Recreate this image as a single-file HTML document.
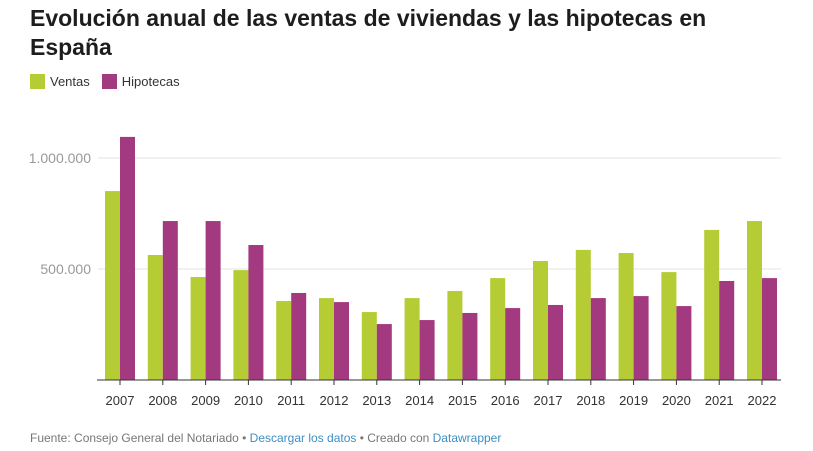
<!DOCTYPE html>
<html><head><meta charset="utf-8"><style>
body{margin:0;width:813px;height:451px;background:#fff;font-family:"Liberation Sans",sans-serif;overflow:hidden}
h1{position:absolute;left:30px;top:4px;margin:0;font-size:23px;line-height:29px;font-weight:bold;color:#1d1d1d;width:760px}
.legend{position:absolute;left:30px;top:74px;font-size:13px;color:#333;display:flex;gap:12px}
.legend span{display:flex;align-items:center}
.sw{display:inline-block;width:15px;height:15px;margin-right:5px}
.foot{position:absolute;left:30px;top:431px;font-size:12px;color:#777}
.foot a{color:#3c8fc5;text-decoration:none}
</style></head><body>
<h1>Evolución anual de las ventas de viviendas y las hipotecas en España</h1>
<div class="legend">
<span><i class="sw" style="background:#b5cc34"></i>Ventas</span>
<span><i class="sw" style="background:#a3397f"></i>Hipotecas</span>
</div>
<svg id="chart" width="813" height="451" style="position:absolute;left:0;top:0"></svg>
<div class="foot">Fuente: Consejo General del Notariado • <a>Descargar los datos</a> • Creado con <a>Datawrapper</a></div>
<script>
const years=["2007","2008","2009","2010","2011","2012","2013","2014","2015","2016","2017","2018","2019","2020","2021","2022"];
const ventas=[851000,563000,464000,495000,356000,369000,306000,369000,401000,459000,536000,586000,572000,486000,676000,716000];
const hipotecas=[1095000,716000,716000,608000,392000,351000,252000,270000,302000,324000,338000,369000,378000,333000,446000,459000];
const ticks=[500000,1000000];
const tickLabels=["500.000","1.000.000"];
const svg=document.getElementById('chart');
const NS="http://www.w3.org/2000/svg";
const y0=380,pxPer=111/500000;
const y=v=>y0-v*pxPer;
const x=i=>105+i*42.8;
function mk(t,a){const e=document.createElementNS(NS,t);for(const k in a)e.setAttribute(k,a[k]);svg.appendChild(e);return e;}
ticks.forEach((t,i)=>{
 const l=mk('line',{x1:98,x2:781,y1:y(t),y2:y(t),stroke:'#e3e3e3'});
 
 
 const tx=mk('text',{x:91,y:y(t)+5,fill:'#999','font-size':14,'text-anchor':'end','font-family':'Liberation Sans'});
 tx.textContent=tickLabels[i];
 
 
});
years.forEach((yr,i)=>{
 const g=mk('rect',{x:x(i),y:y(ventas[i]),width:15,height:ventas[i]*pxPer,fill:'#b5cc34'});
 
 
 const p=mk('rect',{x:x(i)+15,y:y(hipotecas[i]),width:15,height:hipotecas[i]*pxPer,fill:'#a3397f'});
 
 
 const tk=mk('line',{x1:x(i)+15,x2:x(i)+15,y1:y0,y2:y0+5,stroke:'#333'});
 
 
 const t=mk('text',{x:x(i)+15,y:405,fill:'#333','font-size':13,'text-anchor':'middle','font-family':'Liberation Sans'});
 t.textContent=yr;
 
 
});
const ax=mk('line',{x1:97,x2:781,y1:y0,y2:y0,stroke:'#333'});


</script>
</body></html>
